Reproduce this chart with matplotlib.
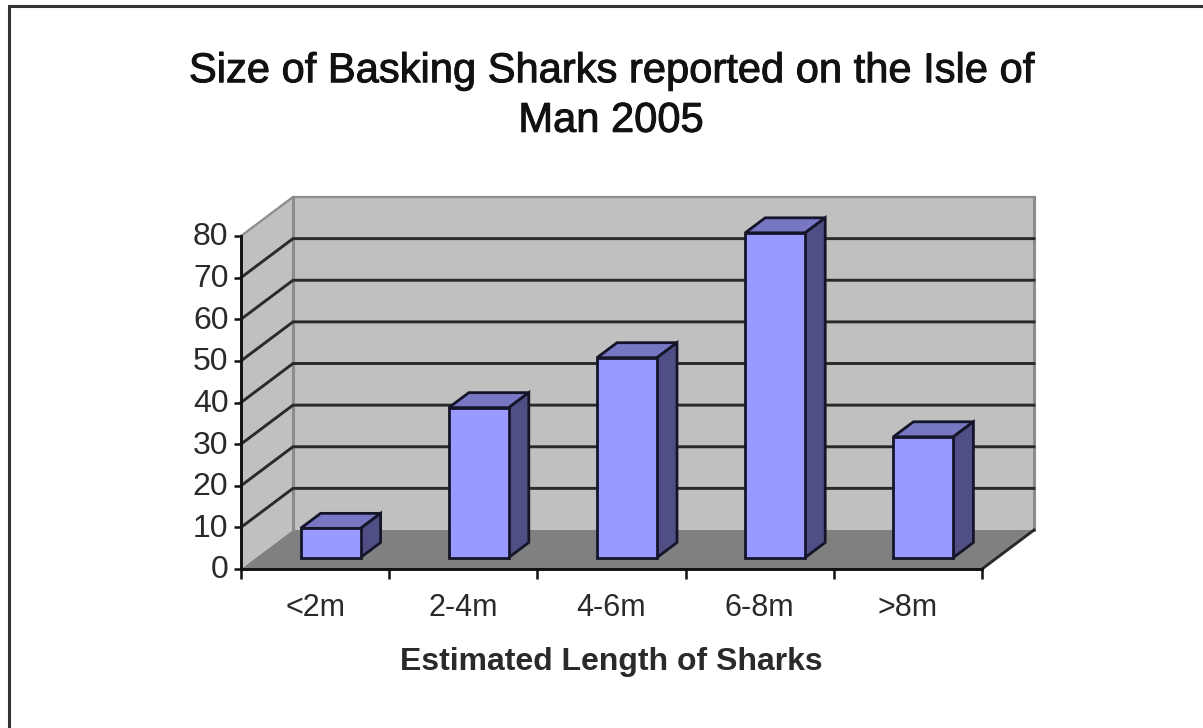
import matplotlib
matplotlib.use('Agg')
import matplotlib.pyplot as plt
import matplotlib.patheffects as pe
from matplotlib.patches import Polygon
from matplotlib.transforms import ScaledTranslation

categories = ['<2m', '2-4m', '4-6m', '6-8m', '>8m']
counts = [7, 36, 48, 78, 29]
y_ticks = [0, 10, 20, 30, 40, 50, 60, 70, 80]
title_text = 'Size of Basking Sharks reported on the Isle of\nMan 2005'
x_label = 'Estimated Length of Sharks'

W, H = 1203, 728
WALL = '#c0c0c0'
WALL_EDGE = '#8c8c8c'
FLOOR = '#808080'
BAR_FRONT = '#9999ff'
BAR_TOP = '#7777c4'
BAR_SIDE = '#4f4f85'
LINE = '#2a2a2a'
TEXT = '#2a2a2a'

plt.rcParams['font.family'] = ['Liberation Sans', 'DejaVu Sans']


def px_axes(fig, left, right, top, bottom):
    return fig.add_axes([left / W, 1 - bottom / H, (right - left) / W, (bottom - top) / H])


def main():
    fig = plt.figure(figsize=(W / 100, H / 100), dpi=100, facecolor='white')

    # outer chart frame, in figure pixels
    frame = px_axes(fig, 0, W, 0, H)
    frame.set_xlim(0, W)
    frame.set_ylim(H, 0)
    frame.axis('off')
    frame.plot([9, 9, W], [H, 6, 6], color='#333333', lw=2.2, solid_joinstyle='miter')
    title = frame.text(611, 96, title_text, ha='center', va='center', fontsize=30,
                       linespacing=1.31, color='#111111')
    title.set_path_effects([pe.withStroke(linewidth=0.7, foreground='#111111')])
    frame.text(611, 662, x_label, ha='center', va='center', fontsize=23,
               fontweight='bold', color=TEXT)

    # front plane of the 3d box: x is category slots, y is the count
    ax = px_axes(fig, 241, 982, 236, 569)
    ax.set_xlim(0, len(categories))
    ax.set_ylim(0, 80)
    ax.patch.set_alpha(0)
    slot = 741 / len(categories)
    unit = 333 / 80

    # depth of the box in data units
    dx = 52 / slot
    dy = 39 / unit

    ax.add_patch(Polygon([(0, 0), (dx, dy), (dx, 80 + dy), (0, 80)], fc=WALL, ec='none', clip_on=False))
    ax.add_patch(Polygon([(dx, dy), (5 + dx, dy), (5 + dx, 80 + dy), (dx, 80 + dy)],
                         fc=WALL, ec='none', clip_on=False))
    ax.add_patch(Polygon([(0, 0), (5, 0), (5 + dx, dy), (dx, dy)], fc=FLOOR, ec='none', clip_on=False))

    # wall edges
    ax.plot([dx, dx], [dy, 80 + dy], color=WALL_EDGE, lw=2.2, clip_on=False)
    ax.plot([5 + dx, 5 + dx], [dy, 80 + dy], color=WALL_EDGE, lw=2.2, clip_on=False)
    ax.plot([0, dx, 5 + dx], [80, 80 + dy, 80 + dy], color=WALL_EDGE, lw=1.6, clip_on=False)

    # gridlines run along the side wall and then across the back
    for v in y_ticks[1:-1]:
        ax.plot([0, dx, 5 + dx], [v, v + dy, v + dy], color=LINE, lw=2.1, clip_on=False,
                solid_joinstyle='miter')
    ax.plot([5, 5 + dx], [0, dy], color=LINE, lw=2.1, clip_on=False)

    # bars, sitting a little way into the floor
    bar_w = 60 / slot
    off_x = 15.5 / slot
    off_y = 11.5 / unit
    deep_x = 20 / slot
    deep_y = 15 / unit
    for i, c in enumerate(categories):
        x0 = i + (1 - bar_w) / 2 + off_x
        x1 = x0 + bar_w
        b = off_y
        t = b + counts[i]
        ax.add_patch(Polygon([(x0, t), (x1, t), (x1 + deep_x, t + deep_y), (x0 + deep_x, t + deep_y)],
                             fc=BAR_TOP, ec='#15152a', lw=2.0, joinstyle='miter', clip_on=False, zorder=3))
        ax.add_patch(Polygon([(x1, b), (x1 + deep_x, b + deep_y), (x1 + deep_x, t + deep_y), (x1, t)],
                             fc=BAR_SIDE, ec='#15152a', lw=2.0, joinstyle='miter', clip_on=False, zorder=3))
        ax.add_patch(Polygon([(x0, b), (x1, b), (x1, t), (x0, t)],
                             fc=BAR_FRONT, ec='#15152a', lw=2.0, joinstyle='miter', clip_on=False, zorder=4))

    for s in ['top', 'right']:
        ax.spines[s].set_visible(False)
    for s in ['left', 'bottom']:
        ax.spines[s].set_linewidth(2.1)
        ax.spines[s].set_color('#111111')

    ax.set_yticks(y_ticks)
    ax.set_xticks(range(len(categories) + 1))
    ax.set_xticklabels([])
    ax.tick_params(axis='y', length=5, width=1.8, color='#111111', labelsize=23,
                   labelcolor=TEXT, pad=4)
    ax.tick_params(axis='x', direction='out', length=7, width=1.8, color='#111111')
    # y labels sit slightly above their ticks
    nudge = ScaledTranslation(0, 2 / 100, fig.dpi_scale_trans)
    for label in ax.get_yticklabels():
        label.set_transform(label.get_transform() + nudge)
    for i, c in enumerate(categories):
        ax.annotate(c, (i + 0.5, 0), xytext=(0, -28), textcoords='offset points', ha='center',
                    va='center', fontsize=22, color=TEXT)

    fig.savefig('out.png', dpi=100)


if __name__ == '__main__':
    main()
